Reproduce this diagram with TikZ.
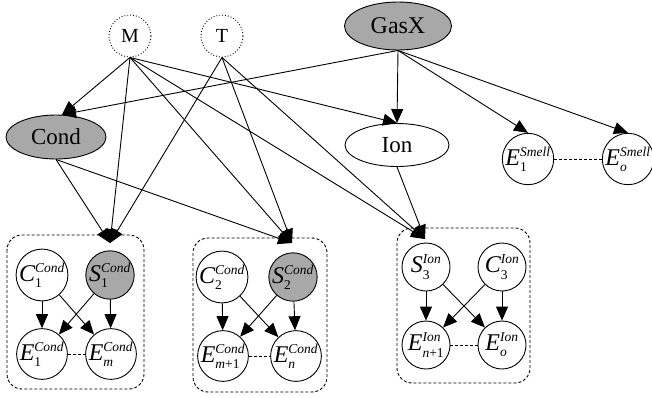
\documentclass[tikz,border=0pt]{standalone}
\usepackage{fontspec}
\setmainfont{Liberation Serif}
\usetikzlibrary{arrows.meta,shapes.geometric}
\definecolor{obsgray}{RGB}{168,168,168}
\newcommand{\vlab}[3]{$\hbox{\fontsize{24}{24}\selectfont\itshape #1}_{\hbox{\fontsize{13.5}{13.5}\selectfont #2}}^{\hbox{\fontsize{13.5}{13.5}\selectfont\itshape #3}}$}
\tikzset{
  bignode/.style={ellipse, draw, line width=0.9pt, inner sep=0pt, font=\fontsize{23}{25}\selectfont},
  obsfill/.style={fill=obsgray},
  ctxnode/.style={circle, draw, dotted, line width=0.9pt, minimum size=42pt, inner sep=0pt, font=\fontsize{20}{22}\selectfont},
  varnode/.style={circle, draw, line width=0.9pt, minimum size=48pt, inner sep=0pt, font=\fontsize{24}{26}\selectfont},
  clusterbox/.style={draw, dashed, dash pattern=on 3pt off 2pt, line width=0.9pt, rounded corners=15pt},
  edge/.style={-{Triangle[length=14pt,width=12pt]}, line width=0.9pt},
  link/.style={dashed, dash pattern=on 3pt off 2pt, line width=0.9pt}
}
\begin{document}
\begin{tikzpicture}[x=1pt,y=-1pt]
\useasboundingbox (0,0) rectangle (652,397);
% clusters
\draw[clusterbox] (7,235) rectangle (144,389);
\draw[clusterbox] (193,238) rectangle (327,392);
\draw[clusterbox] (397,228) rectangle (530,383);
\coordinate (t1) at (110,243);
\coordinate (t2) at (292,243);
\coordinate (t3) at (425,239);
% top nodes
\node[ctxnode] (M) at (130,36) {M};
\node[ctxnode] (T) at (222,36) {T};
\node[bignode, obsfill, minimum width=107pt, minimum height=48pt, font=\fontsize{24}{26}\selectfont] (GasX) at (398,26) {GasX};
\node[bignode, obsfill, minimum width=100pt, minimum height=44pt] (Cond) at (56,137) {Cond};
\node[bignode, minimum width=104pt, minimum height=43pt] (Ion) at (397,145) {Ion};
\node[varnode] (E1S) at (528,159) {\vlab{E}{1}{Smell}};
\node[varnode] (EoS) at (628,159) {\vlab{E}{\itshape o}{Smell}};
% cluster 1
\node[varnode] (C1) at (42,275) {\vlab{C}{1}{Cond}};
\node[varnode, obsfill] (S1) at (110,275) {\vlab{S}{1}{Cond}};
\node[varnode] (E1) at (42,354) {\vlab{E}{1}{Cond}};
\node[varnode] (Em) at (111,354) {\vlab{E}{\itshape m}{Cond}};
% cluster 2
\node[varnode] (C2) at (222,277) {\vlab{C}{2}{Cond}};
\node[varnode, obsfill] (S2) at (293,277) {\vlab{S}{2}{Cond}};
\node[varnode] (Em1) at (223,356) {\vlab{E}{{\itshape m}+1}{Cond}};
\node[varnode] (En) at (296,356) {\vlab{E}{\itshape n}{Cond}};
% cluster 3
\node[varnode] (S3) at (426,267) {\vlab{S}{3}{Ion}};
\node[varnode] (C3) at (502,267) {\vlab{C}{3}{Ion}};
\node[varnode] (En1) at (426,345) {\vlab{E}{{\itshape n}+1}{Ion}};
\node[varnode] (Eo) at (502,345) {\vlab{E}{\itshape o}{Ion}};
% top edges
\draw[edge] (M.south) -- (Cond.75);
\draw[edge] (GasX.south) -- (Cond.75);
\draw[edge] (GasX.south) -- (Ion.north);
\draw[edge] (M.south) -- (Ion.north);
\draw[edge] (GasX.south) -- (E1S.north);
\draw[edge] (GasX.south) -- (EoS.north);
\draw[link] (E1S) -- (EoS);
% edges into clusters
\draw[edge] (M.south) -- (t1);
\draw[edge] (T.south) -- (t1);
\draw[edge] (Cond.south) -- (t1);
\draw[edge] (M.south) -- (t2);
\draw[edge] (T.south) -- (t2);
\draw[edge] (Cond.south) -- (t2);
\draw[edge] (M.south) -- (t3);
\draw[edge] (T.south) -- (t3);
\draw[edge] (Ion.south) -- (t3);
% cluster 1 edges
\draw[edge] (C1) -- (E1);
\draw[edge] (C1) -- (Em);
\draw[edge] (S1) -- (E1);
\draw[edge] (S1) -- (Em);
\draw[link] (E1) -- (Em);
% cluster 2 edges
\draw[edge] (C2) -- (Em1);
\draw[edge] (C2) -- (En);
\draw[edge] (S2) -- (Em1);
\draw[edge] (S2) -- (En);
\draw[link] (Em1) -- (En);
% cluster 3 edges
\draw[edge] (S3) -- (En1);
\draw[edge] (S3) -- (Eo);
\draw[edge] (C3) -- (En1);
\draw[edge] (C3) -- (Eo);
\draw[link] (En1) -- (Eo);
\end{tikzpicture}
\end{document}
